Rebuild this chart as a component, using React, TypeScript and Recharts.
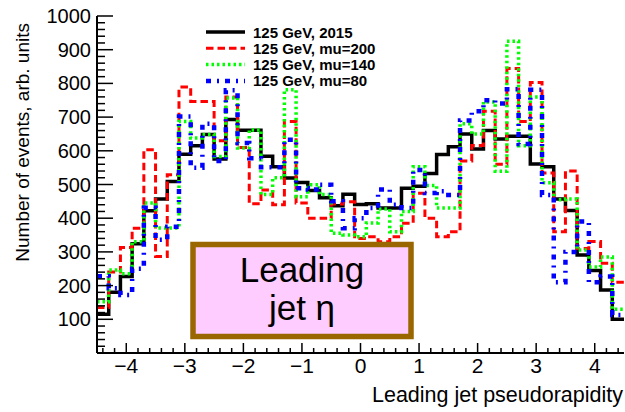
import React from 'react';
import { ComposedChart, Line, XAxis, YAxis } from 'recharts';

// Bin edges of the pseudorapidity histograms (45 bins, -4.5 .. 4.5)
const BIN_EDGES = [
  -4.5, -4.3, -4.1, -3.9, -3.7, -3.5, -3.3, -3.1, -2.9, -2.7, -2.5, -2.3, -2.1, -1.9, -1.7,
  -1.5, -1.3, -1.1, -0.9, -0.7, -0.5, -0.3, -0.1, 0.1, 0.3, 0.5, 0.7, 0.9, 1.1, 1.3,
  1.5, 1.7, 1.9, 2.1, 2.3, 2.5, 2.7, 2.9, 3.1, 3.3, 3.5, 3.7, 3.9, 4.1, 4.3, 4.5,
];

const SERIES_2015 = [
  115, 180, 227, 324, 422, 457, 509, 590, 615, 648, 576, 693, 661, 661, 584,
  553, 519, 506, 482, 461, 437, 471, 441, 443, 430, 430, 489, 495, 533, 589,
  612, 650, 605, 660, 635, 643, 643, 561, 553, 457, 423, 291, 245, 187, 100,
];
const SERIES_MU200 = [
  135, 240, 313, 370, 603, 286, 529, 789, 746, 746, 630, 760, 610, 443, 484,
  440, 687, 445, 400, 400, 442, 449, 340, 345, 330, 345, 385, 474, 400, 345,
  360, 570, 616, 717, 560, 844, 687, 803, 534, 360, 540, 310, 331, 266, 210,
];
const SERIES_MU140 = [
  152, 246, 235, 330, 445, 371, 371, 687, 638, 648, 583, 757, 608, 662, 470,
  520, 781, 464, 499, 470, 355, 350, 345, 386, 427, 360, 420, 553, 497, 430,
  430, 680, 650, 745, 539, 925, 615, 760, 505, 455, 457, 306, 255, 285, 130,
];
const SERIES_MU80 = [
  228, 192, 172, 250, 431, 336, 375, 702, 550, 680, 570, 780, 623, 578, 551,
  551, 633, 489, 485, 499, 450, 370, 400, 430, 485, 440, 430, 543, 475, 480,
  469, 690, 717, 750, 740, 783, 620, 781, 469, 210, 300, 390, 210, 227, 113,
];

const LEGEND_LABELS = ['125 GeV, 2015', '125 GeV, mu=200', '125 GeV, mu=140', '125 GeV, mu=80'];
const X_MAJOR = [-4, -3, -2, -1, 0, 1, 2, 3, 4];
const X_MINOR = [
  -4.4, -4.2, -3.8, -3.6, -3.4, -3.2, -2.8, -2.6, -2.4, -2.2, -1.8, -1.6, -1.4, -1.2,
  -0.8, -0.6, -0.4, -0.2, 0.2, 0.4, 0.6, 0.8, 1.2, 1.4, 1.6, 1.8, 2.2, 2.4, 2.6, 2.8,
  3.2, 3.4, 3.6, 3.8, 4.2, 4.4,
];
const Y_MAJOR = [100, 200, 300, 400, 500, 600, 700, 800, 900, 1000];
const Y_MINOR = [
  20, 40, 60, 80, 120, 140, 160, 180, 220, 240, 260, 280, 320, 340, 360, 380, 420, 440, 460, 480,
  520, 540, 560, 580, 620, 640, 660, 680, 720, 740, 760, 780, 820, 840, 860, 880, 920, 940, 960, 980,
];

const data = BIN_EDGES.map((x, i) => {
  const j = Math.min(i, SERIES_2015.length - 1);
  return {
    x,
    s2015: SERIES_2015[j],
    mu200: SERIES_MU200[j],
    mu140: SERIES_MU140[j],
    mu80: SERIES_MU80[j],
  };
});

const FONT = '"Liberation Sans", Arial, Helvetica, sans-serif';
const xTicks = [...X_MINOR, ...X_MAJOR].sort((a, b) => a - b);
const yTicks = [...Y_MINOR, ...Y_MAJOR].sort((a, b) => a - b);

const isMajorX = (v: number) => Math.abs(v - Math.round(v)) < 1e-6;
const isMajorY = (v: number) => v % 100 === 0;

const fmt = (v: number) => (v < 0 ? '\u2212' + Math.abs(v) : String(v));

const BottomTick = (props: any) => {
  const { x, y, payload } = props;
  const major = isMajorX(payload.value);
  return (
    <g>
      <line x1={x} x2={x} y1={y} y2={y - (major ? 10 : 5)} stroke="#000" strokeWidth={1.5} />
      {major && (
        <text x={x} y={y + 20} textAnchor="middle" fontSize={21} fontFamily={FONT} fill="#000">
          {fmt(payload.value)}
        </text>
      )}
    </g>
  );
};
const TopTick = (props: any) => {
  const { x, y, payload } = props;
  const major = isMajorX(payload.value);
  return <line x1={x} x2={x} y1={y} y2={y + (major ? 10 : 5)} stroke="#000" strokeWidth={1.5} />;
};
const LeftTick = (props: any) => {
  const { x, y, payload } = props;
  const major = isMajorY(payload.value);
  return (
    <g>
      <line x1={x} x2={x + (major ? 16 : 8)} y1={y} y2={y} stroke="#000" strokeWidth={1.5} />
      {major && (
        <text x={x - 6} y={y + 7} textAnchor="end" fontSize={20} fontFamily={FONT} fill="#000">
          {payload.value}
        </text>
      )}
    </g>
  );
};
const RightTick = (props: any) => {
  const { x, y, payload } = props;
  const major = isMajorY(payload.value);
  return <line x1={x} x2={x - (major ? 16 : 8)} y1={y} y2={y} stroke="#000" strokeWidth={1.5} />;
};

const STYLES = [
  { key: 's2015', color: '#000000', width: 3.5, dash: undefined as string | undefined },
  { key: 'mu200', color: '#ff0000', width: 3, dash: '7.5 4' },
  { key: 'mu140', color: '#00ff00', width: 3.5, dash: '2.5 3' },
  { key: 'mu80', color: '#0000ff', width: 4.5, dash: '5 6 2 6' },
];

export default function App() {
  return (
    <div style={{ position: 'absolute', left: 0, top: 0, width: 625, height: 412, background: '#fff' }}>
      <ComposedChart
        width={625}
        height={412}
        data={data}
        margin={{ top: 16, right: 1, bottom: 0, left: 0 }}
      >
        <XAxis
          xAxisId="x"
          type="number"
          dataKey="x"
          domain={[-4.5, 4.5]}
          allowDataOverflow
          ticks={xTicks}
          interval={0}
          tickSize={0}
          tickMargin={0}
          tickLine={false}
          tick={<BottomTick />}
          axisLine={{ stroke: '#000', strokeWidth: 2 }}
          height={59}
        />
        <XAxis
          xAxisId="xt"
          orientation="top"
          type="number"
          dataKey="x"
          domain={[-4.5, 4.5]}
          allowDataOverflow
          ticks={xTicks}
          interval={0}
          tickSize={0}
          tickMargin={0}
          tickLine={false}
          tick={<TopTick />}
          axisLine={{ stroke: '#000', strokeWidth: 2 }}
          height={0}
        />
        <YAxis
          yAxisId="y"
          type="number"
          domain={[0, 1000]}
          allowDataOverflow
          ticks={yTicks}
          interval={0}
          tickSize={0}
          tickMargin={0}
          tickLine={false}
          tick={<LeftTick />}
          axisLine={{ stroke: '#000', strokeWidth: 2 }}
          width={97}
        />
        <YAxis
          yAxisId="yr"
          orientation="right"
          type="number"
          domain={[0, 1000]}
          allowDataOverflow
          ticks={yTicks}
          interval={0}
          tickSize={0}
          tickMargin={0}
          tickLine={false}
          tick={<RightTick />}
          axisLine={{ stroke: '#000', strokeWidth: 2 }}
          width={0}
        />
        {STYLES.map((s) => (
          <Line
            key={s.key}
            xAxisId="x"
            yAxisId="y"
            type="stepAfter"
            dataKey={s.key}
            stroke={s.color}
            strokeWidth={s.width}
            strokeDasharray={s.dash}
            dot={false}
            activeDot={false}
            isAnimationActive={false}
          />
        ))}
      </ComposedChart>
      <svg
        width={625}
        height={412}
        style={{ position: 'absolute', left: 0, top: 0, pointerEvents: 'none' }}
      >
        {LEGEND_LABELS.map((label, i) => {
          const cy = 32 + i * 16.3;
          const s = STYLES[i];
          return (
            <g key={label}>
              <line x1={206} x2={245} y1={cy} y2={cy} stroke={s.color} strokeWidth={s.width} strokeDasharray={s.dash} />
              <text x={253} y={cy + 5.5} fontSize={15} fontWeight="bold" fontFamily={FONT} fill="#000">
                {label}
              </text>
            </g>
          );
        })}
        <rect x={193} y={244.5} width={218} height={92} fill="#ffccff" stroke="#996600" strokeWidth={5.5} />
        <text x={302} y={282} textAnchor="middle" fontSize={35} fontFamily={FONT} fill="#000">
          Leading
        </text>
        <text x={302} y={320} textAnchor="middle" fontSize={35} fontFamily={FONT} fill="#000">
          jet η
        </text>
        <text
          x={29}
          y={23}
          textAnchor="end"
          fontSize={19}
          fontFamily={FONT}
          fill="#000"
          transform="rotate(-90, 29, 23)"
        >
          Number of events, arb. units
        </text>
        <text x={623} y={402} textAnchor="end" fontSize={21.5} fontFamily={FONT} fill="#000">
          Leading jet pseudorapidity
        </text>
      </svg>
    </div>
  );
}
